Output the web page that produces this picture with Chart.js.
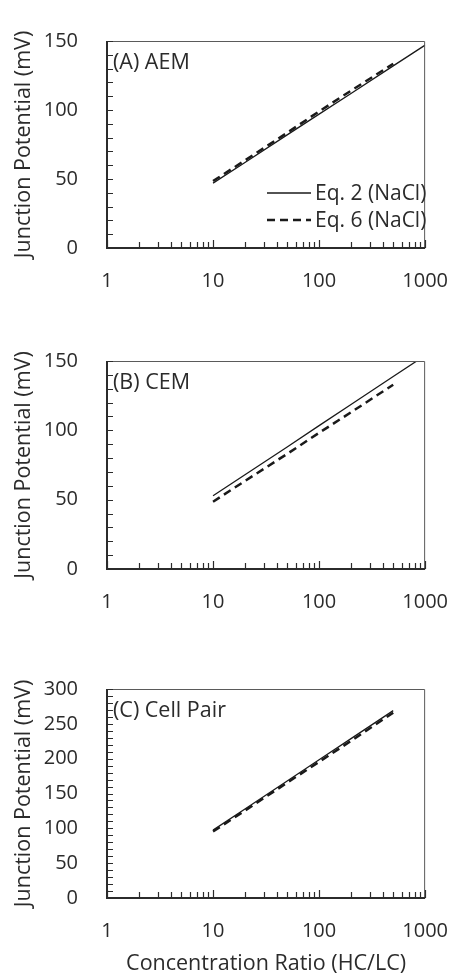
<!DOCTYPE html>
<html>
<head>
<meta charset="utf-8">
<script src="https://cdn.jsdelivr.net/npm/chart.js@4.4.1/dist/chart.umd.min.js"></script>
<style>
  body { margin: 0; background: #fff; width: 469px; height: 979px; position: relative; overflow: hidden; }
  canvas { position: absolute; left: 0; }
</style>
</head>
<body>
<canvas id="chartA" width="469" height="310" style="top:0px"></canvas>
<canvas id="chartB" width="469" height="310" style="top:320px"></canvas>
<canvas id="chartC" width="469" height="331" style="top:648px"></canvas>
<script>
// concentration ratios (HC/LC) where the curves are sampled
const ratios = [10, 20, 50, 100, 200, 500, 1000];

// junction potential in mV, Eq. 2 runs to 1000, Eq. 6 stops at 500
const aemEq2 = [47, 62, 82, 97, 112, 132, 147];
const aemEq6 = [48.5, 63.5, 83.5, 99, 114, 133.5];
const cemEq2 = [52.8, 68, 88, 103.4, 118.6, 138.8, 154];
const cemEq6 = [48.5, 63.5, 83, 98.2, 113, 132.9];
const pairEq2 = [97.4, 127.8, 168, 198.4, 228.8, 269];
const pairEq6 = [95.5, 125.5, 165.5, 195.5, 225.5, 266];

const seriesNames = ["Eq. 2 (NaCl)", "Eq. 6 (NaCl)"];
const xMajor = [1, 10, 100, 1000];
const yLabelsSmall = [0, 50, 100, 150];
const yLabelsLarge = [0, 50, 100, 150, 200, 250, 300];

const FONT = "'Open Sans', sans-serif";
const INK = "#2b2b2b";

function points(ys) {
    return ys.map((v, i) => ({ x: ratios[i], y: v }));
}

// minor log ticks: 1..9 in every decade
function xTickList() {
    const list = [];
    for (let i = 0; i < xMajor.length - 1; i++) {
        for (let m = 1; m < 10; m++) list.push(xMajor[i] * m);
    }
    list.push(xMajor[xMajor.length - 1]);
    return list;
}

// frame around the plot plus short inward tick marks
const frameTicks = {
    id: "frameTicks",
    afterDatasetsDraw(chart) {
        const { ctx, chartArea: a, scales: { x, y } } = chart;
        ctx.save();
        ctx.strokeStyle = "#5a5a5a";
        ctx.lineWidth = 1;
        ctx.beginPath();
        ctx.moveTo(a.left, a.top + 0.5);
        ctx.lineTo(a.right - 0.5, a.top + 0.5);
        ctx.lineTo(a.right - 0.5, a.bottom);
        ctx.stroke();

        ctx.strokeStyle = INK;
        ctx.lineWidth = 1.2;
        ctx.beginPath();
        x.ticks.forEach(t => {
            const px = Math.round(x.getPixelForValue(t.value)) + 0.5;
            const len = xMajor.includes(t.value) ? 8 : 6;
            ctx.moveTo(px, a.bottom);
            ctx.lineTo(px, a.bottom - len);
        });
        y.ticks.forEach(t => {
            const py = Math.round(y.getPixelForValue(t.value)) + 0.5;
            ctx.moveTo(a.left, py);
            ctx.lineTo(a.left + 6, py);
        });
        ctx.stroke();

        ctx.lineWidth = 2;
        ctx.beginPath();
        ctx.moveTo(a.left, a.top);
        ctx.lineTo(a.left, a.bottom);
        ctx.lineTo(a.right, a.bottom);
        ctx.stroke();
        ctx.restore();
    }
};

// panel tag in the top-left corner
const panelTag = {
    id: "panelTag",
    afterDraw(chart, args, opts) {
        const { ctx, chartArea: a } = chart;
        ctx.save();
        ctx.fillStyle = INK;
        ctx.font = "21.5px " + FONT;
        ctx.textBaseline = "alphabetic";
        ctx.fillText(opts.text, a.left + 6, a.top + 28);
        ctx.restore();
    }
};

// legend drawn in the lower right of the first panel
const cornerLegend = {
    id: "cornerLegend",
    afterDraw(chart, args, opts) {
        if (!opts.show) return;
        const { ctx } = chart;
        ctx.save();
        ctx.font = "21px " + FONT;
        ctx.fillStyle = INK;
        ctx.textBaseline = "middle";
        chart.data.datasets.forEach((ds, i) => {
            const yy = 193 + i * 27;
            ctx.strokeStyle = ds.borderColor;
            ctx.lineWidth = ds.borderWidth;
            ctx.setLineDash(ds.borderDash || []);
            ctx.beginPath();
            ctx.moveTo(267, yy);
            ctx.lineTo(311, yy);
            ctx.stroke();
            ctx.setLineDash([]);
            ctx.fillText(ds.label, 315, yy + 1);
        });
        ctx.restore();
    }
};

function makePanel(id, tag, eq2, eq6, yMax, yLabels, opts) {
    const ctx = document.getElementById(id).getContext("2d");
    return new Chart(ctx, {
        type: "line",
        data: {
            datasets: [
                { label: seriesNames[0], data: points(eq2), borderColor: "#1a1a1a", borderWidth: 1.3, pointRadius: 0, tension: 0 },
                { label: seriesNames[1], data: points(eq6), borderColor: "#1a1a1a", borderWidth: 2.5, borderDash: [8, 5], pointRadius: 0, tension: 0 }
            ]
        },
        options: {
            responsive: false,
            animation: false,
            layout: { padding: { top: 15, right: opts.right, left: 0, bottom: 0 } },
            plugins: {
                legend: { display: false },
                tooltip: { enabled: false },
                panelTag: { text: tag },
                cornerLegend: { show: opts.legend }
            },
            scales: {
                x: {
                    type: "logarithmic",
                    min: 1,
                    max: 1000,
                    grid: { display: false, drawTicks: false },
                    border: { display: false },
                    afterBuildTicks(scale) {
                        scale.ticks = xTickList().map(v => ({ value: v }));
                    },
                    afterFit(scale) { scale.height = opts.xHeight; },
                    ticks: {
                        autoSkip: false,
                        maxRotation: 0,
                        padding: 21,
                        color: INK,
                        font: { family: FONT, size: 20 },
                        callback: v => xMajor.includes(v) ? String(v) : ""
                    },
                    title: {
                        display: !!opts.xTitle,
                        text: opts.xTitle || "",
                        color: INK,
                        font: { family: FONT, size: 21.5 },
                        padding: { top: 0, bottom: 2 }
                    }
                },
                y: {
                    min: 0,
                    max: yMax,
                    grid: { display: false, drawTicks: false },
                    border: { display: false },
                    afterBuildTicks(scale) {
                        const list = [];
                        for (let v = 0; v <= yMax; v += 10) list.push({ value: v });
                        scale.ticks = list;
                    },
                    afterFit(scale) { scale.width = 107; },
                    ticks: {
                        autoSkip: false,
                        padding: 29,
                        color: INK,
                        font: { family: FONT, size: 20 },
                        callback: v => yLabels.includes(v) ? String(v) : ""
                    },
                    title: {
                        display: true,
                        text: "Junction Potential (mV)",
                        color: INK,
                        font: { family: FONT, size: 21.5 },
                        padding: { top: 11, bottom: 0 }
                    }
                }
            }
        },
        plugins: [frameTicks, panelTag, cornerLegend]
    });
}

makePanel("chartA", "(A) AEM", aemEq2, aemEq6, 150, yLabelsSmall, { right: 27, xHeight: 62, legend: true });
makePanel("chartB", "(B) CEM", cemEq2, cemEq6, 150, yLabelsSmall, { right: 30, xHeight: 61, legend: false });
makePanel("chartC", "(C) Cell Pair", pairEq2, pairEq6, 300, yLabelsLarge, { right: 30, xHeight: 81, legend: false, xTitle: "Concentration Ratio (HC/LC)" });
</script>
</body>
</html>
